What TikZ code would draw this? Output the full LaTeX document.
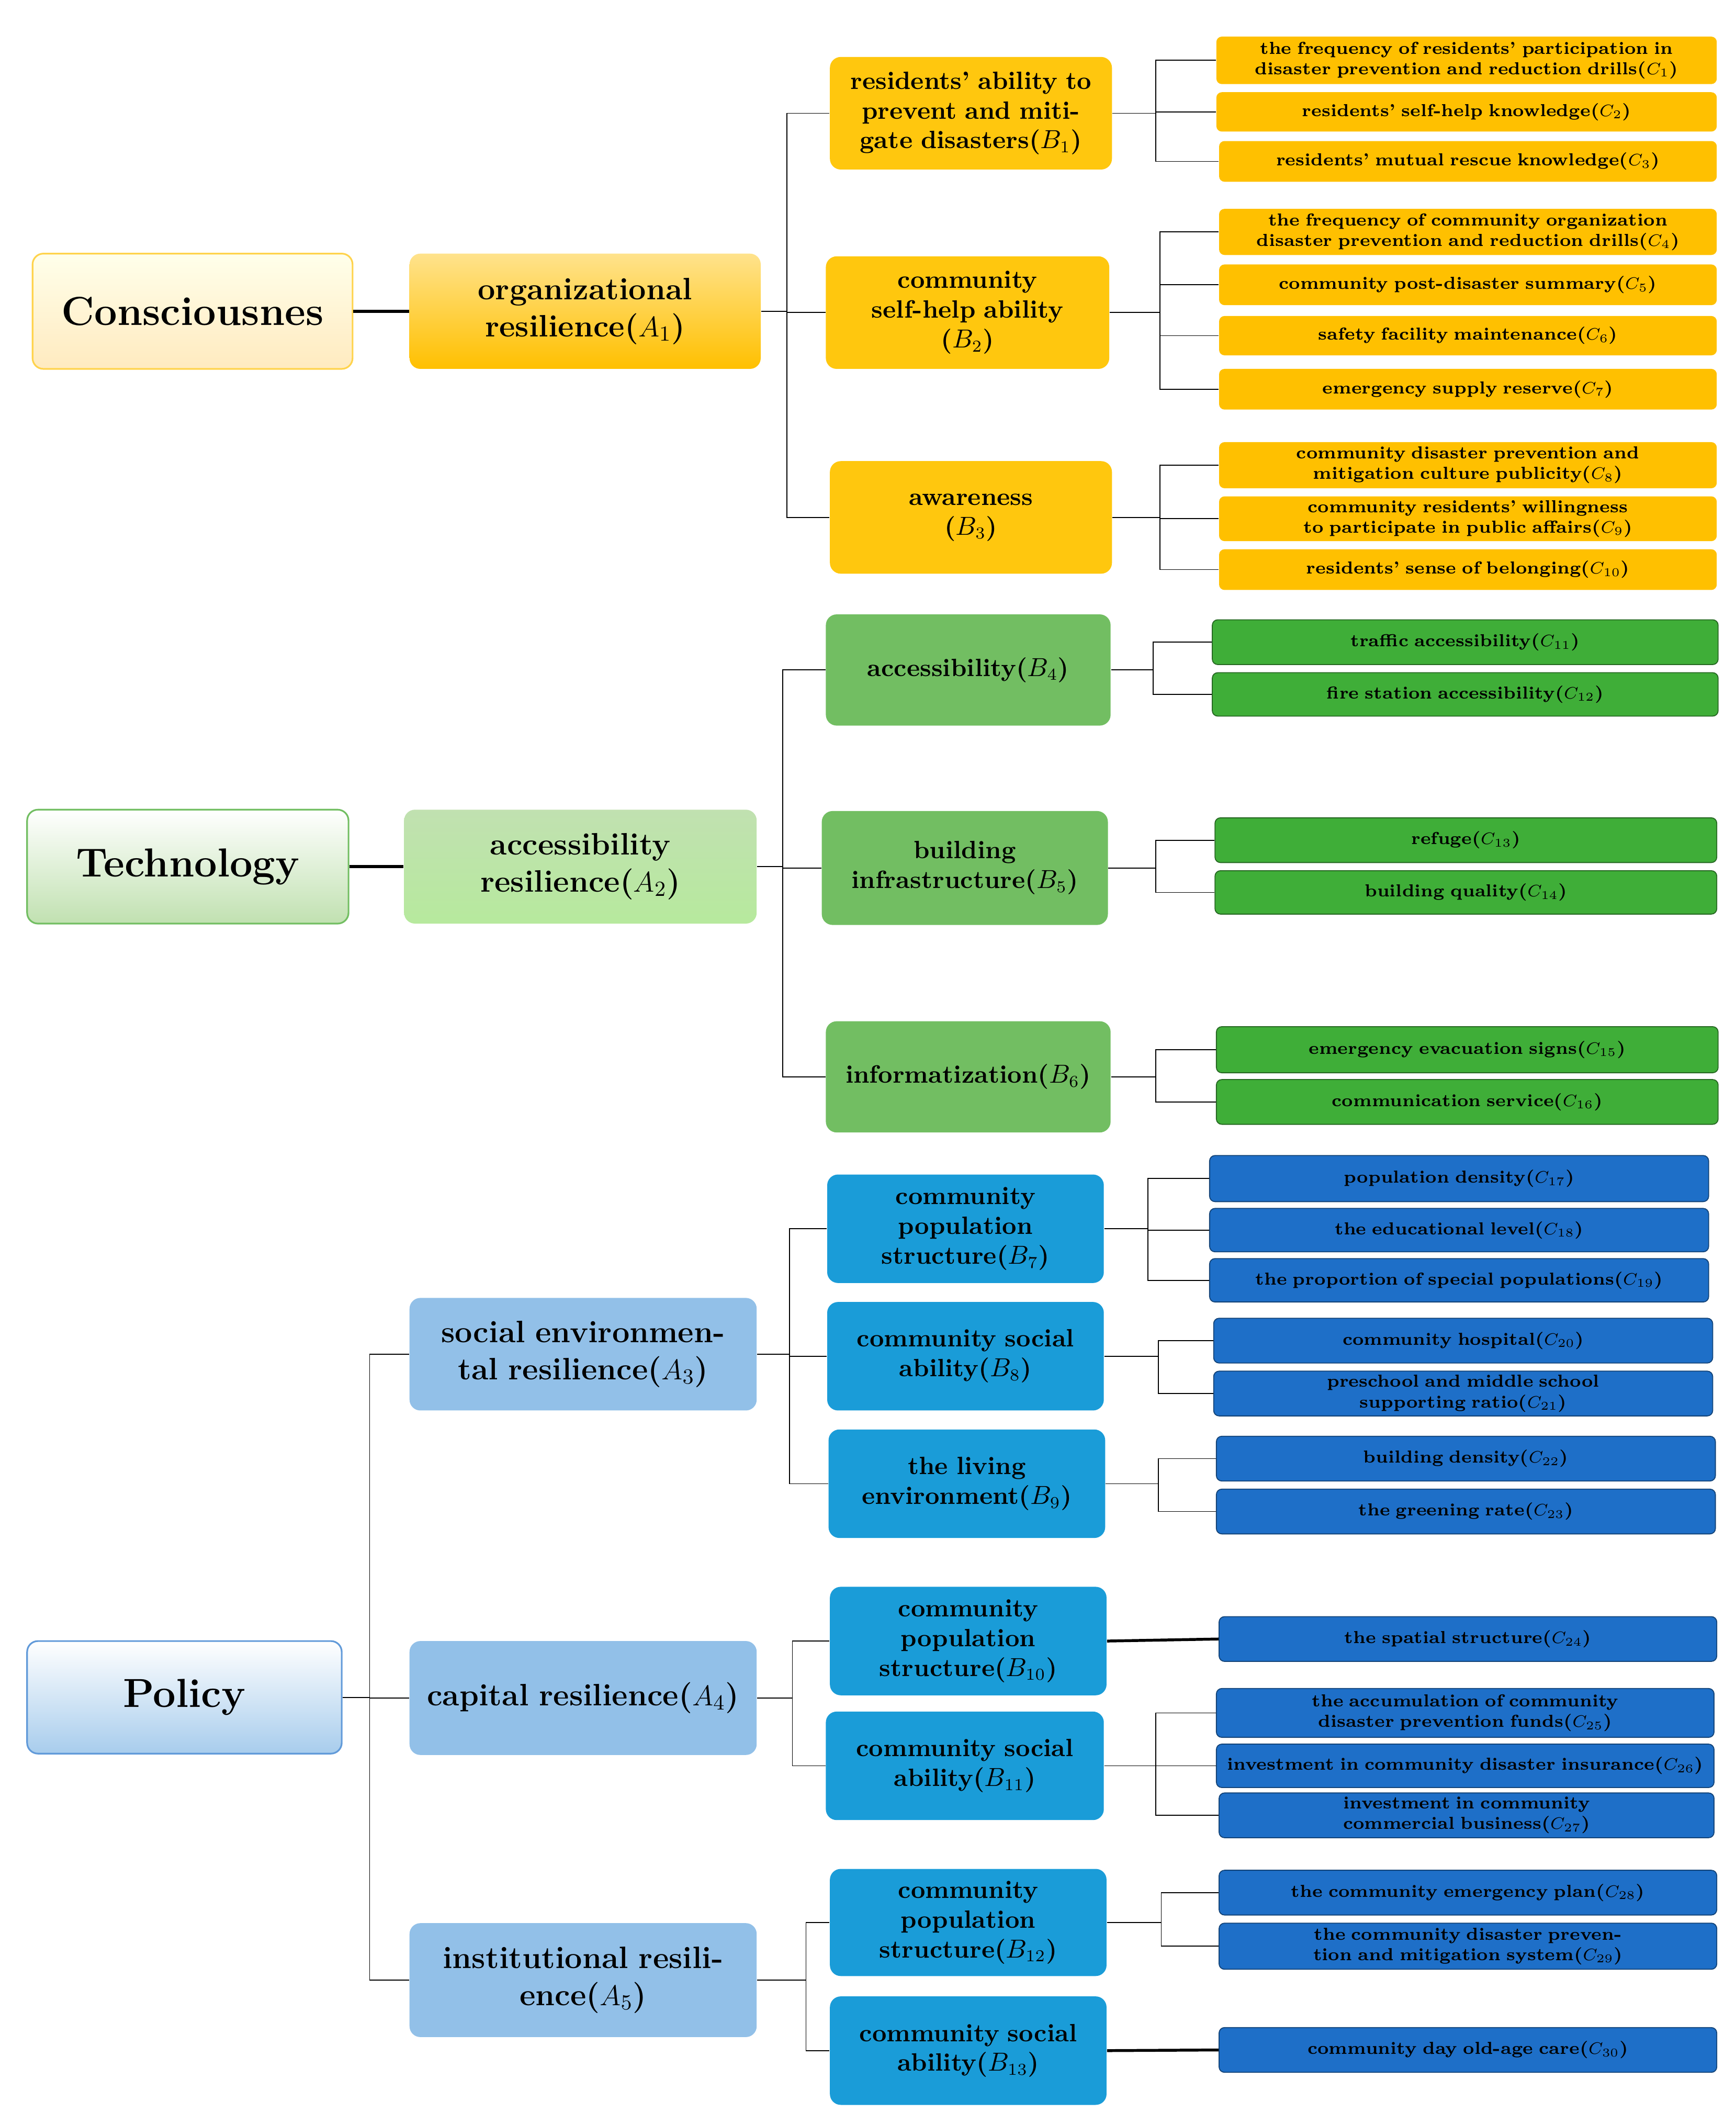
\documentclass[tikz,border=0pt]{standalone}
\usetikzlibrary{calc}
\definecolor{yC}{HTML}{FFC000}
\definecolor{yB}{HTML}{FFC70E}
\definecolor{gC}{HTML}{3FAE38}
\definecolor{gB}{HTML}{72BE62}
\definecolor{gA}{HTML}{A6D48F}
\definecolor{bC}{HTML}{1E6FC8}
\definecolor{bB}{HTML}{1A9CD8}
\definecolor{bA}{HTML}{92C0E8}
\newcommand\bx[7]{\node[#6, minimum width={(#4-#2)*0.02cm}, minimum height={(#5-#3)*0.02cm}, text width={(#4-#2-14)*0.02cm}] (#1) at ({(#2+#4)/2},{(#3+#5)/2}) {#7};}
\tikzset{
 x=0.02cm,y=-0.02cm,
 box/.style={rounded corners=0.16cm, align=center, inner sep=1pt, font=\bfseries},
 L0/.style={box, font=\fontsize{17}{20}\selectfont\bfseries, line width=0.7pt},
 Lc/.style={L0, draw=yC!70, top color=yellow!8, bottom color=yellow!35!orange!25},
 Lt/.style={L0, draw=gB, top color=white, bottom color=gA!70},
 Lp/.style={L0, draw=bC!70, top color=white, bottom color=bA!80},
 A/.style={box, font=\fontsize{13}{15.5}\selectfont\bfseries},
 Ay/.style={A, top color=yC!45, bottom color=yC},
 Ag/.style={A, top color=gA!70, bottom color=gA!110!black},
 Ab/.style={A, fill=bA},
 B/.style={box, font=\fontsize{10.5}{12.5}\selectfont\bfseries},
 By/.style={B, fill=yB}, Bg/.style={B, fill=gB}, Bb/.style={B, fill=bB},
 C/.style={box, rounded corners=0.08cm, font=\fontsize{7.3}{8.6}\selectfont\bfseries},
 Cy/.style={C, fill=yC}, Cg/.style={C, fill=gC, draw=gC!60!black}, Cb/.style={C, fill=bC, draw=bC!60!black},
 ln/.style={line width=1.2pt, black},
 tree/.style={ln, to path={-- ([xshift=#1*0.02cm]\tikztostart) |- (\tikztotarget)}}
}
\begin{document}
\begin{tikzpicture}
\useasboundingbox (0,0) rectangle (1280,1558);
% level 0
\bx{L1}{24}{187}{260}{272}{Lc}{Consciousnes}
\bx{L2}{20}{597}{257}{681}{Lt}{Technology}
\bx{L3}{20}{1210}{252}{1293}{Lp}{Policy}
% A
\bx{A1}{302}{187}{561}{272}{Ay}{organizational resilience($A_1$)}
\bx{A2}{298}{597}{558}{681}{Ag}{accessibility resilience($A_2$)}
\bx{A3}{302}{957}{558}{1040}{Ab}{social environmen-\\tal resilience($A_3$)}
\bx{A4}{302}{1210}{558}{1294}{Ab}{capital resilience($A_4$)}
\bx{A5}{302}{1418}{558}{1502}{Ab}{institutional resili-\\ence($A_5$)}
% B
\bx{B1}{612}{42}{820}{125}{By}{residents' ability to prevent and mitigate disasters($B_1$)}
\bx{B2}{609}{189}{818}{272}{By}{community\\self-help ability\\($B_2$)}
\bx{B3}{612}{340}{820}{423}{By}{awareness\\($B_3$)}
\bx{B4}{609}{453}{819}{535}{Bg}{accessibility($B_4$)}
\bx{B5}{606}{598}{817}{682}{Bg}{building\\infrastructure($B_5$)}
\bx{B6}{609}{753}{819}{835}{Bg}{informatization($B_6$)}
\bx{B7}{610}{866}{814}{946}{Bb}{community\\population\\structure($B_7$)}
\bx{B8}{610}{960}{814}{1040}{Bb}{community social\\ability($B_8$)}
\bx{B9}{611}{1054}{815}{1134}{Bb}{the living\\environment($B_9$)}
\bx{B10}{612}{1170}{816}{1250}{Bb}{community\\population\\structure($B_{10}$)}
\bx{B11}{609}{1262}{814}{1342}{Bb}{community social\\ability($B_{11}$)}
\bx{B12}{612}{1378}{816}{1457}{Bb}{community\\population\\structure($B_{12}$)}
\bx{B13}{612}{1472}{816}{1552}{Bb}{community social\\ability($B_{13}$)}
% C
\bx{C1}{897}{27}{1266}{62}{Cy}{the frequency of residents' participation in disaster prevention and reduction drills($C_1$)}
\bx{C2}{897}{68}{1266}{97}{Cy}{residents' self-help knowledge($C_2$)}
\bx{C3}{899}{104}{1266}{134}{Cy}{residents' mutual rescue knowledge($C_3$)}
\bx{C4}{899}{154}{1266}{188}{Cy}{the frequency of community organization disaster prevention and reduction drills($C_4$)}
\bx{C5}{899}{195}{1266}{225}{Cy}{community post-disaster summary($C_5$)}
\bx{C6}{899}{233}{1266}{262}{Cy}{safety facility maintenance($C_6$)}
\bx{C7}{899}{272}{1266}{302}{Cy}{emergency supply reserve($C_7$)}
\bx{C8}{899}{326}{1266}{360}{Cy}{community disaster prevention and mitigation culture publicity($C_8$)}
\bx{C9}{899}{366}{1266}{399}{Cy}{community residents' willingness to participate in public affairs($C_9$)}
\bx{C10}{899}{405}{1266}{435}{Cy}{residents' sense of belonging($C_{10}$)}
\bx{C11}{894}{457}{1267}{490}{Cg}{traffic accessibility($C_{11}$)}
\bx{C12}{894}{496}{1267}{528}{Cg}{fire station accessibility($C_{12}$)}
\bx{C13}{896}{603}{1266}{636}{Cg}{refuge($C_{13}$)}
\bx{C14}{896}{642}{1266}{674}{Cg}{building quality($C_{14}$)}
\bx{C15}{897}{757}{1267}{791}{Cg}{emergency evacuation signs($C_{15}$)}
\bx{C16}{897}{796}{1267}{829}{Cg}{communication service($C_{16}$)}
\bx{C17}{892}{852}{1260}{886}{Cb}{population density($C_{17}$)}
\bx{C18}{892}{891}{1260}{923}{Cb}{the educational level($C_{18}$)}
\bx{C19}{892}{928}{1260}{960}{Cb}{the proportion of special populations($C_{19}$)}
\bx{C20}{895}{972}{1263}{1005}{Cb}{community hospital($C_{20}$)}
\bx{C21}{895}{1011}{1263}{1044}{Cb}{preschool and middle school supporting ratio($C_{21}$)}
\bx{C22}{897}{1059}{1265}{1092}{Cb}{building density($C_{22}$)}
\bx{C23}{897}{1098}{1265}{1131}{Cb}{the greening rate($C_{23}$)}
\bx{C24}{899}{1192}{1266}{1225}{Cb}{the spatial structure($C_{24}$)}
\bx{C25}{897}{1245}{1264}{1281}{Cb}{the accumulation of community disaster prevention funds($C_{25}$)}
\bx{C26}{897}{1286}{1264}{1318}{Cb}{investment in community disaster insurance($C_{26}$)}
\bx{C27}{899}{1322}{1264}{1355}{Cb}{investment in community commercial business($C_{27}$)}
\bx{C28}{899}{1379}{1266}{1412}{Cb}{the community emergency plan($C_{28}$)}
\bx{C29}{899}{1418}{1266}{1452}{Cb}{the community disaster prevention and mitigation system($C_{29}$)}
\bx{C30}{899}{1495}{1266}{1528}{Cb}{community day old-age care($C_{30}$)}
% connectors
\draw[ln] (L1) -- (A1); \draw[ln] (L2) -- (A2);
\foreach \a in {A3,A4,A5} \draw (L3.east) to[tree=20] (\a.west);
\foreach \b in {B1,B2,B3} \draw (A1.east) to[tree=19] (\b.west);
\foreach \b in {B4,B5,B6} \draw (A2.east) to[tree=19] (\b.west);
\foreach \b in {B7,B8,B9} \draw (A3.east) to[tree=24] (\b.west);
\foreach \b in {B10,B11} \draw (A4.east) to[tree=26] (\b.west);
\foreach \b in {B12,B13} \draw (A5.east) to[tree=36] (\b.west);
\foreach \c in {C1,C2,C3} \draw (B1.east) to[tree=32] (\c.west);
\foreach \c in {C4,C5,C6,C7} \draw (B2.east) to[tree=37] (\c.west);
\foreach \c in {C8,C9,C10} \draw (B3.east) to[tree=35] (\c.west);
\foreach \c in {C11,C12} \draw (B4.east) to[tree=31] (\c.west);
\foreach \c in {C13,C14} \draw (B5.east) to[tree=35] (\c.west);
\foreach \c in {C15,C16} \draw (B6.east) to[tree=33] (\c.west);
\foreach \c in {C17,C18,C19} \draw (B7.east) to[tree=32] (\c.west);
\foreach \c in {C20,C21} \draw (B8.east) to[tree=40] (\c.west);
\foreach \c in {C22,C23} \draw (B9.east) to[tree=39] (\c.west);
\draw[ln] (B10.east) -- (C24.west);
\foreach \c in {C25,C26,C27} \draw (B11.east) to[tree=38] (\c.west);
\foreach \c in {C28,C29} \draw (B12.east) to[tree=40] (\c.west);
\draw[ln] (B13.east) -- (C30.west);
\end{tikzpicture}
\end{document}
